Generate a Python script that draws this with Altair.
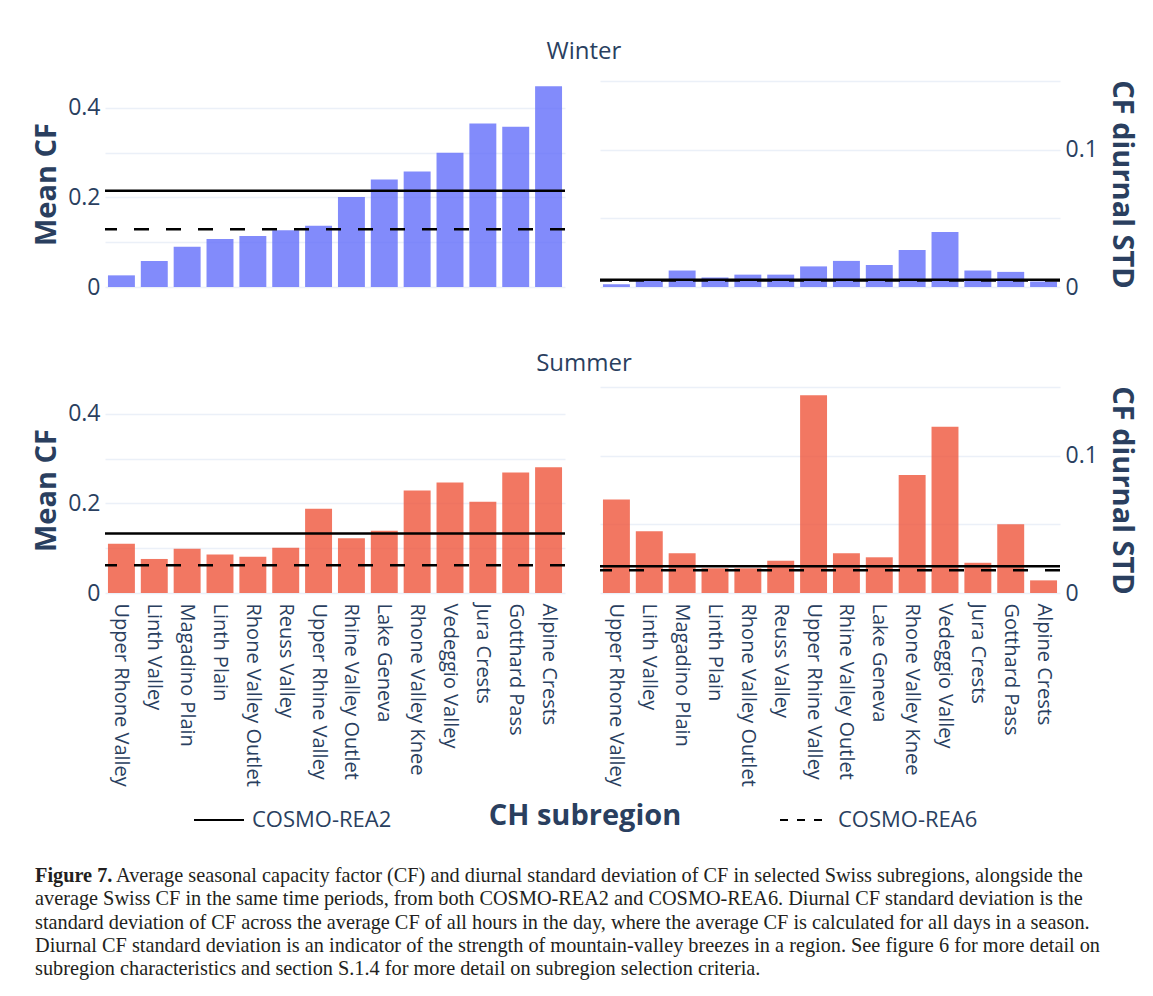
import altair as alt
import pandas as pd

regions = ["Upper Rhone Valley", "Linth Valley", "Magadino Plain", "Linth Plain",
           "Rhone Valley Outlet", "Reuss Valley", "Upper Rhine Valley", "Rhine Valley Outlet",
           "Lake Geneva", "Rhone Valley Knee", "Vedeggio Valley", "Jura Crests",
           "Gotthard Pass", "Alpine Crests"]

winter_mean_cf = [0.026, 0.058, 0.090, 0.107, 0.114, 0.127, 0.137, 0.201, 0.240, 0.258, 0.300, 0.365, 0.358, 0.448]
winter_std_cf = [0.002, 0.005, 0.012, 0.007, 0.009, 0.009, 0.015, 0.019, 0.016, 0.027, 0.040, 0.012, 0.011, 0.004]
summer_mean_cf = [0.110, 0.076, 0.099, 0.086, 0.081, 0.101, 0.188, 0.122, 0.139, 0.229, 0.247, 0.204, 0.269, 0.281]
summer_std_cf = [0.068, 0.045, 0.029, 0.018, 0.018, 0.0235, 0.144, 0.029, 0.026, 0.086, 0.121, 0.022, 0.050, 0.0092]

models = ["COSMO-REA2", "COSMO-REA6"]
winter_ch_mean = [0.215, 0.129]
winter_ch_std = [0.0053, 0.0048]
summer_ch_mean = [0.133, 0.062]
summer_ch_std = [0.0195, 0.0165]

caption_bold = "Figure 7."
caption_first = "Average seasonal capacity factor (CF) and diurnal standard deviation of CF in selected Swiss subregions, alongside the"
caption_rest = [
    "average Swiss CF in the same time periods, from both COSMO-REA2 and COSMO-REA6. Diurnal CF standard deviation is the",
    "standard deviation of CF across the average CF of all hours in the day, where the average CF is calculated for all days in a season.",
    "Diurnal CF standard deviation is an indicator of the strength of mountain-valley breezes in a region. See figure 6 for more detail on",
    "subregion characteristics and section S.1.4 for more detail on subregion selection criteria.",
]

FONT = "Open Sans"
TXT = "#2a3f5f"
GRID = "#EBF0F8"
WINTER = "#636EFA"
SUMMER = "#EF553B"
W, H = 460, 206
CAP_FS = 20.3
CAP_X = -70
CAP_Y0 = 83
CAP_STEP = 23.25


def x_enc(show):
    if show:
        ax = alt.Axis(title=None, labelAngle=90, labelFontSize=20, labelPadding=10,
                      labelLimit=400, ticks=False, domain=False, grid=False)
    else:
        ax = None
    return alt.X("region:N", sort=regions,
                 scale=alt.Scale(paddingInner=0.18, paddingOuter=0.09), axis=ax)


left_axis = alt.Axis(values=[0, 0.1, 0.2, 0.3, 0.4],
                     labelExpr="round(datum.value*10) % 2 == 0 ? format(datum.value, '~g') : ''",
                     title="Mean CF", titleFontSize=29, titlePadding=6,
                     labelFontSize=23, labelPadding=5, grid=True)
right_axis = alt.Axis(orient="right", values=[0, 0.05, 0.1, 0.15],
                      labelExpr="(datum.value == 0 || datum.value == 0.1) ? format(datum.value, '~g') : ''",
                      title="CF diurnal STD", titleFontSize=29, titlePadding=9,
                      labelFontSize=23, labelPadding=5, grid=True)


def panel(vals, ch, color, show_x, side):
    if side == "left":
        scale = alt.Scale(domain=[0, 0.46], nice=False, zero=True)
        axis = left_axis
    else:
        scale = alt.Scale(domain=[0, 0.15], nice=False, zero=True)
        axis = right_axis
    df = pd.DataFrame({"region": regions, "value": vals})
    bars = alt.Chart(df).mark_bar(color=color, opacity=0.8).encode(
        x=x_enc(show_x),
        y=alt.Y("value:Q", scale=scale, axis=axis),
    )
    ldf = pd.DataFrame({"model": models, "value": ch})
    solid = alt.Chart(ldf).transform_filter(alt.datum.model == models[0]).mark_rule(
        color="black", strokeWidth=2.5
    ).encode(y=alt.Y("value:Q", scale=scale, axis=axis))
    dashed = alt.Chart(ldf).transform_filter(alt.datum.model == models[1]).mark_rule(
        color="black", strokeWidth=2.5, strokeDash=[15, 17]
    ).encode(y=alt.Y("value:Q", scale=scale, axis=axis))
    return alt.layer(bars, solid, dashed).properties(width=W, height=H)


def row(title, mean_vals, std_vals, ch_mean, ch_std, color, show_x, offset):
    return alt.hconcat(
        panel(mean_vals, ch_mean, color, show_x, "left"),
        panel(std_vals, ch_std, color, show_x, "right"),
        spacing=31,
    ).properties(title=alt.TitleParams(title, fontSize=24, font=FONT, fontWeight="normal",
                                       color=TXT, anchor="middle", offset=offset))


row_winter = row("Winter", winter_mean_cf, winter_std_cf, winter_ch_mean, winter_ch_std, WINTER, False, 16)
row_summer = row("Summer", summer_mean_cf, summer_std_cf, summer_ch_mean, summer_ch_std, SUMMER, True, 10)

# footer: legend, x-axis title and caption
legend_layer = alt.Chart(pd.DataFrame({"model": models})).mark_rule(
    color="black", strokeWidth=2
).encode(
    x=alt.value(0), x2=alt.value(0), y=alt.value(0), y2=alt.value(0),
    strokeDash=alt.StrokeDash(
        "model:N", scale=alt.Scale(domain=models, range=[[1, 0], [8, 9]]),
        legend=alt.Legend(title=None, orient="none", direction="horizontal",
                          legendX=88, legendY=713,
                          symbolType="stroke", symbolSize=2500,
                          symbolStrokeWidth=2, symbolStrokeColor="black",
                          labelFontSize=22, labelFont=FONT, labelColor=TXT,
                          labelOffset=7, columnPadding=384, padding=0)),
)

xtitle = alt.Chart(pd.DataFrame({"t": ["CH subregion"]})).mark_text(
    font=FONT, fontSize=29, fontWeight="bold", color=TXT, align="center", baseline="middle"
).encode(text="t:N", x=alt.value(480), y=alt.value(23))

cap_b = alt.Chart(pd.DataFrame({"t": [caption_bold]})).mark_text(
    font="Liberation Serif", fontSize=CAP_FS, fontWeight="bold", color="#231f20",
    align="left", baseline="middle"
).encode(text="t:N", x=alt.value(CAP_X), y=alt.value(CAP_Y0))

cap_1 = alt.Chart(pd.DataFrame({"t": [caption_first]})).mark_text(
    font="Liberation Serif", fontSize=CAP_FS, color="#231f20", align="left", baseline="middle"
).encode(text="t:N", x=alt.value(CAP_X + 81), y=alt.value(CAP_Y0))

cap_df = pd.DataFrame({"idx": list(range(1, len(caption_rest) + 1)), "t": caption_rest})
cap = alt.Chart(cap_df).mark_text(
    font="Liberation Serif", fontSize=CAP_FS, color="#231f20", align="left", baseline="middle"
).encode(
    text="t:N",
    x=alt.value(CAP_X),
    y=alt.Y("idx:Q", scale=alt.Scale(domain=[0, 4], range=[CAP_Y0, CAP_Y0 + 4 * CAP_STEP]), axis=None),
)

footer = alt.layer(legend_layer, xtitle, cap_b, cap_1, cap).properties(width=950, height=185)

rows = alt.vconcat(row_winter, row_summer, spacing=52)

chart = alt.vconcat(rows, footer, spacing=5).properties(
    padding={"left": 24, "top": 31, "right": 5, "bottom": 0},
    background="white",
).configure_view(stroke=None).configure_axis(
    labelFont=FONT, titleFont=FONT, labelColor=TXT, titleColor=TXT,
    titleFontWeight="bold", gridColor=GRID, gridWidth=1.5, domain=False, ticks=False,
)

chart.save("out.html", embed_options={"renderer": "svg", "actions": False})
